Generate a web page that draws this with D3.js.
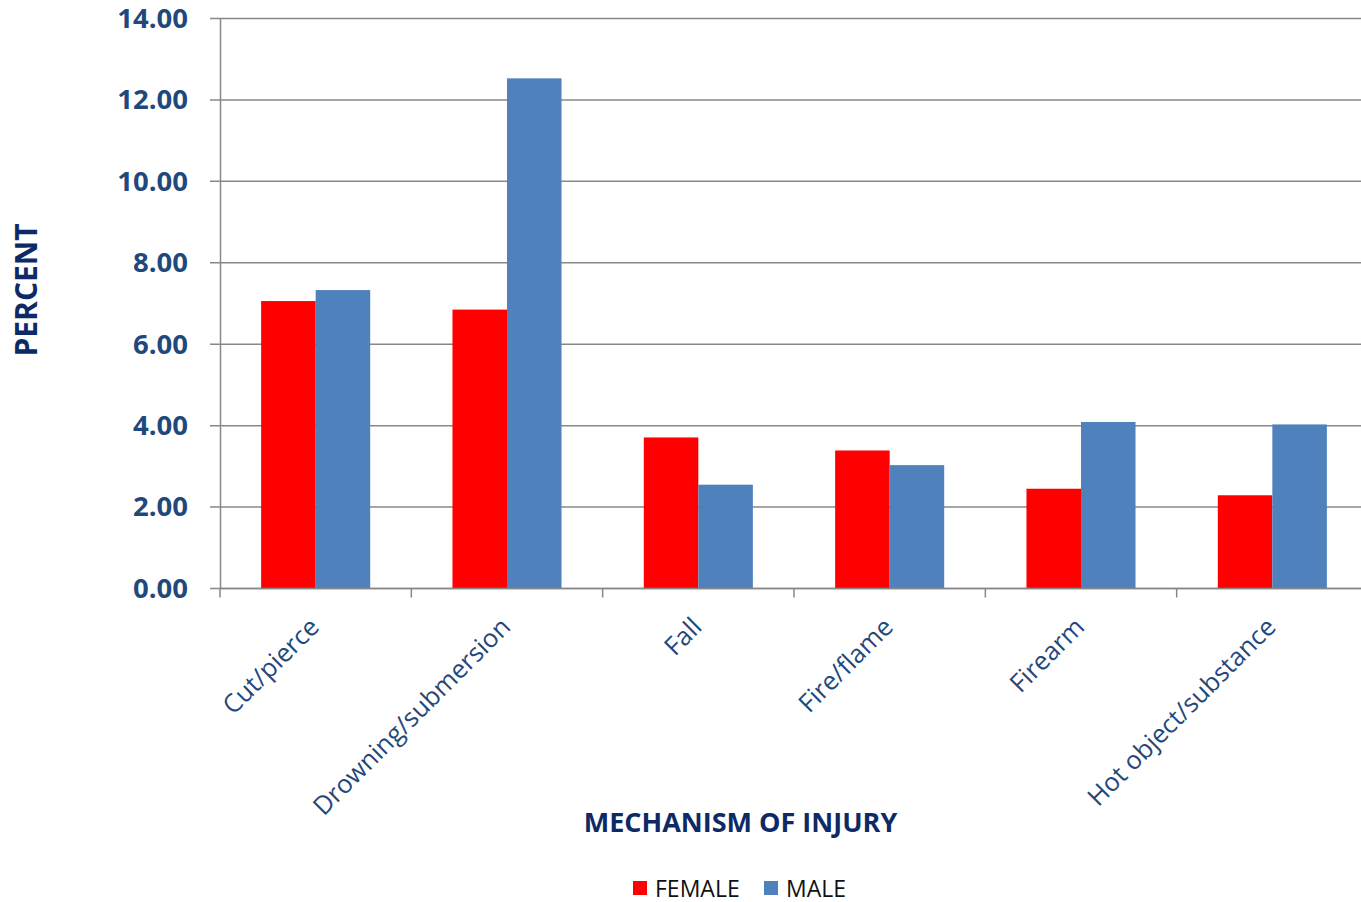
<!DOCTYPE html>
<html><head><meta charset="utf-8">
<script src="https://cdn.jsdelivr.net/npm/d3@7"></script>
<style>
html,body{margin:0;padding:0;background:#fff;}
svg{display:block;}
</style></head>
<body><svg id="chart" width="1361" height="902"></svg>
<script>
const categories = ["Cut/pierce","Drowning/submersion","Fall","Fire/flame","Firearm","Hot object/substance"];
const seriesNames = ["FEMALE","MALE"];
const female = [7.06, 6.85, 3.71, 3.39, 2.45, 2.29];
const male = [7.33, 12.53, 2.55, 3.03, 4.09, 4.03];
const yTicks = [0,2,4,6,8,10,12,14];
const colors = ["#FF0000","#4F81BD"];

(function(){
const svg = d3.select("#chart");
const mLeft = 220, mRight = 1368, mTop = 18.5, mBottom = 588.5;
const font = "'Open Sans', 'Liberation Sans', sans-serif";
const tickColor = "#1F497D";
const titleColor = "#0E2A66";

const x0 = d3.scaleBand().domain(categories).range([mLeft, mRight]).paddingInner(0.43).paddingOuter(0.215);
const x1 = d3.scaleBand().domain(seriesNames).range([0, x0.bandwidth()]);
const y = d3.scaleLinear().domain([0,14]).range([mBottom, mTop]);

// gridlines
svg.append("g").selectAll("line").data(yTicks).join("line")
  .attr("x1", mLeft-10).attr("x2", 1361)
  .attr("y1", d=>y(d)).attr("y2", d=>y(d))
  .attr("stroke","#888").attr("stroke-width",1.5);

// y axis
const yAxis = svg.append("g").attr("transform",`translate(${mLeft},0)`)
  .call(d3.axisLeft(y).tickValues(yTicks).tickFormat(d3.format(".2f")).tickSize(0).tickPadding(32));
yAxis.select(".domain").attr("stroke","#888").attr("stroke-width",1.5);
yAxis.selectAll("text").attr("font-family",font).attr("font-weight","bold").attr("font-size",27.5).attr("fill",tickColor);

// bars
const data = categories.map((c,i)=>({cat:c, vals:[{s:"FEMALE",v:female[i]},{s:"MALE",v:male[i]}]}));
svg.append("g").selectAll("g").data(data).join("g")
  .attr("transform", d=>`translate(${x0(d.cat)},0)`)
  .selectAll("rect").data(d=>d.vals).join("rect")
  .attr("x", d=>x1(d.s)).attr("width", x1.bandwidth())
  .attr("y", d=>y(d.v)).attr("height", d=>y(0)-y(d.v))
  .attr("fill", (d,i)=>colors[i]);

// x axis
const step = x0.step();
const xg = svg.append("g").attr("transform",`translate(0,${mBottom})`);
xg.append("line").attr("x1",mLeft).attr("x2",1361).attr("stroke","#888").attr("stroke-width",1.5);
const bounds = d3.range(categories.length+1).map(i=>mLeft+i*step);
xg.selectAll("line.tk").data(bounds).join("line").attr("class","tk")
  .attr("x1",d=>d).attr("x2",d=>d).attr("y1",0).attr("y2",9)
  .attr("stroke","#888").attr("stroke-width",1.5);
xg.selectAll("text.cl").data(categories).join("text").attr("class","cl")
  .attr("transform", d=>`translate(${x0(d)+x0.bandwidth()/2+5},${40}) rotate(-45)`)
  .attr("text-anchor","end")
  .attr("font-family",font).attr("font-size",25.5).attr("fill",tickColor)
  .text(d=>d);

// axis titles
svg.append("text").attr("transform","translate(37,290) rotate(-90)")
  .attr("text-anchor","middle").attr("font-family",font).attr("font-weight","bold")
  .attr("font-size",30).attr("fill",titleColor).text("PERCENT");
svg.append("text").attr("x",740.5).attr("y",832)
  .attr("text-anchor","middle").attr("font-family",font).attr("font-weight","bold")
  .attr("font-size",27).attr("fill",titleColor).text("MECHANISM OF INJURY");

// legend
const legendX = [633, 764];
const lg = svg.append("g").selectAll("g").data(seriesNames).join("g")
  .attr("transform",(d,i)=>`translate(${legendX[i]},881)`);
lg.append("rect").attr("width",14).attr("height",14).attr("fill",(d,i)=>colors[i]);
lg.append("text").attr("x",22).attr("y",15.5).attr("font-family",font).attr("font-size",23)
  .attr("fill","#111").text(d=>d);
})();
</script></body></html>
